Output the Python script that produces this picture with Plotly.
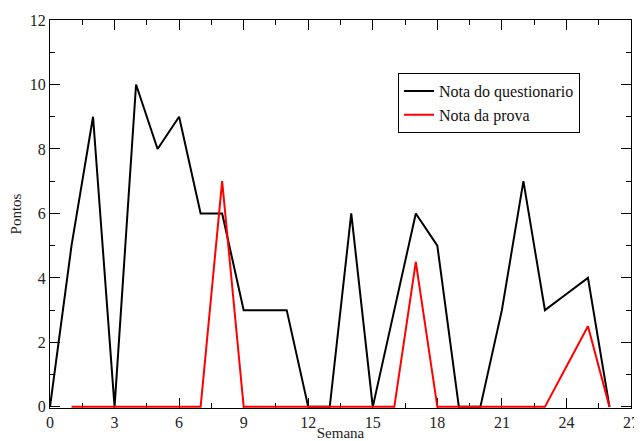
import plotly.graph_objects as go

semana_q = list(range(0, 27))
nota_questionario = [0, 5, 9, 0, 10, 8, 9, 6, 6, 3, 3, 3, 0, 0, 6, 0, 3, 6, 5, 0, 0, 3, 7, 3, 3.5, 4, 0]
semana_p = list(range(1, 27))
nota_prova = [0, 0, 0, 0, 0, 0, 0, 7, 0, 0, 0, 0, 0, 0, 0, 0, 4.5, 0, 0, 0, 0, 0, 0, 1.25, 2.5, 0]

x_ticks = [0, 3, 6, 9, 12, 15, 18, 21, 24, 27]
y_ticks = [0, 2, 4, 6, 8, 10, 12]

font_family = "Liberation Serif"

fig = go.Figure()
fig.add_trace(go.Scatter(x=semana_q, y=nota_questionario, mode="lines",
                         line=dict(color="black", width=2), name="Nota do questionario"))
fig.add_trace(go.Scatter(x=semana_p, y=nota_prova, mode="lines",
                         line=dict(color="red", width=2), name="Nota da prova"))

axis_common = dict(showgrid=False, zeroline=False, showline=True, linecolor="black", linewidth=1,
                   mirror="ticks", ticks="inside", ticklen=10, tickcolor="black", tickwidth=1,
                   layer="below traces", automargin=False,
                   tickfont=dict(family=font_family, size=16, color="#222"))

fig.update_xaxes(range=[0, 27], tickmode="array", tickvals=x_ticks, **axis_common,
                 minor=dict(ticks="inside", ticklen=5, dtick=1.5, tick0=0, tickcolor="black"),
                 title=dict(text="Semana", font=dict(family=font_family, size=15, color="#222"), standoff=2))
fig.update_yaxes(range=[-0.035, 12], tickmode="array", tickvals=y_ticks, **axis_common,
                 minor=dict(ticks="inside", ticklen=5, dtick=1, tick0=0, tickcolor="black"),
                 title=dict(text="Pontos", font=dict(family=font_family, size=15, color="#222"), standoff=12))

fig.update_layout(
    width=634, height=433,
    margin=dict(l=42, r=11, t=12, b=33),
    paper_bgcolor="white", plot_bgcolor="white",
    showlegend=True,
    legend=dict(x=0.599, y=0.863, xanchor="left", yanchor="top",
                bordercolor="black", borderwidth=1, bgcolor="white",
                font=dict(family=font_family, size=16, color="#111"),
                tracegroupgap=0, itemwidth=30),
)

fig.write_html("out.html")
